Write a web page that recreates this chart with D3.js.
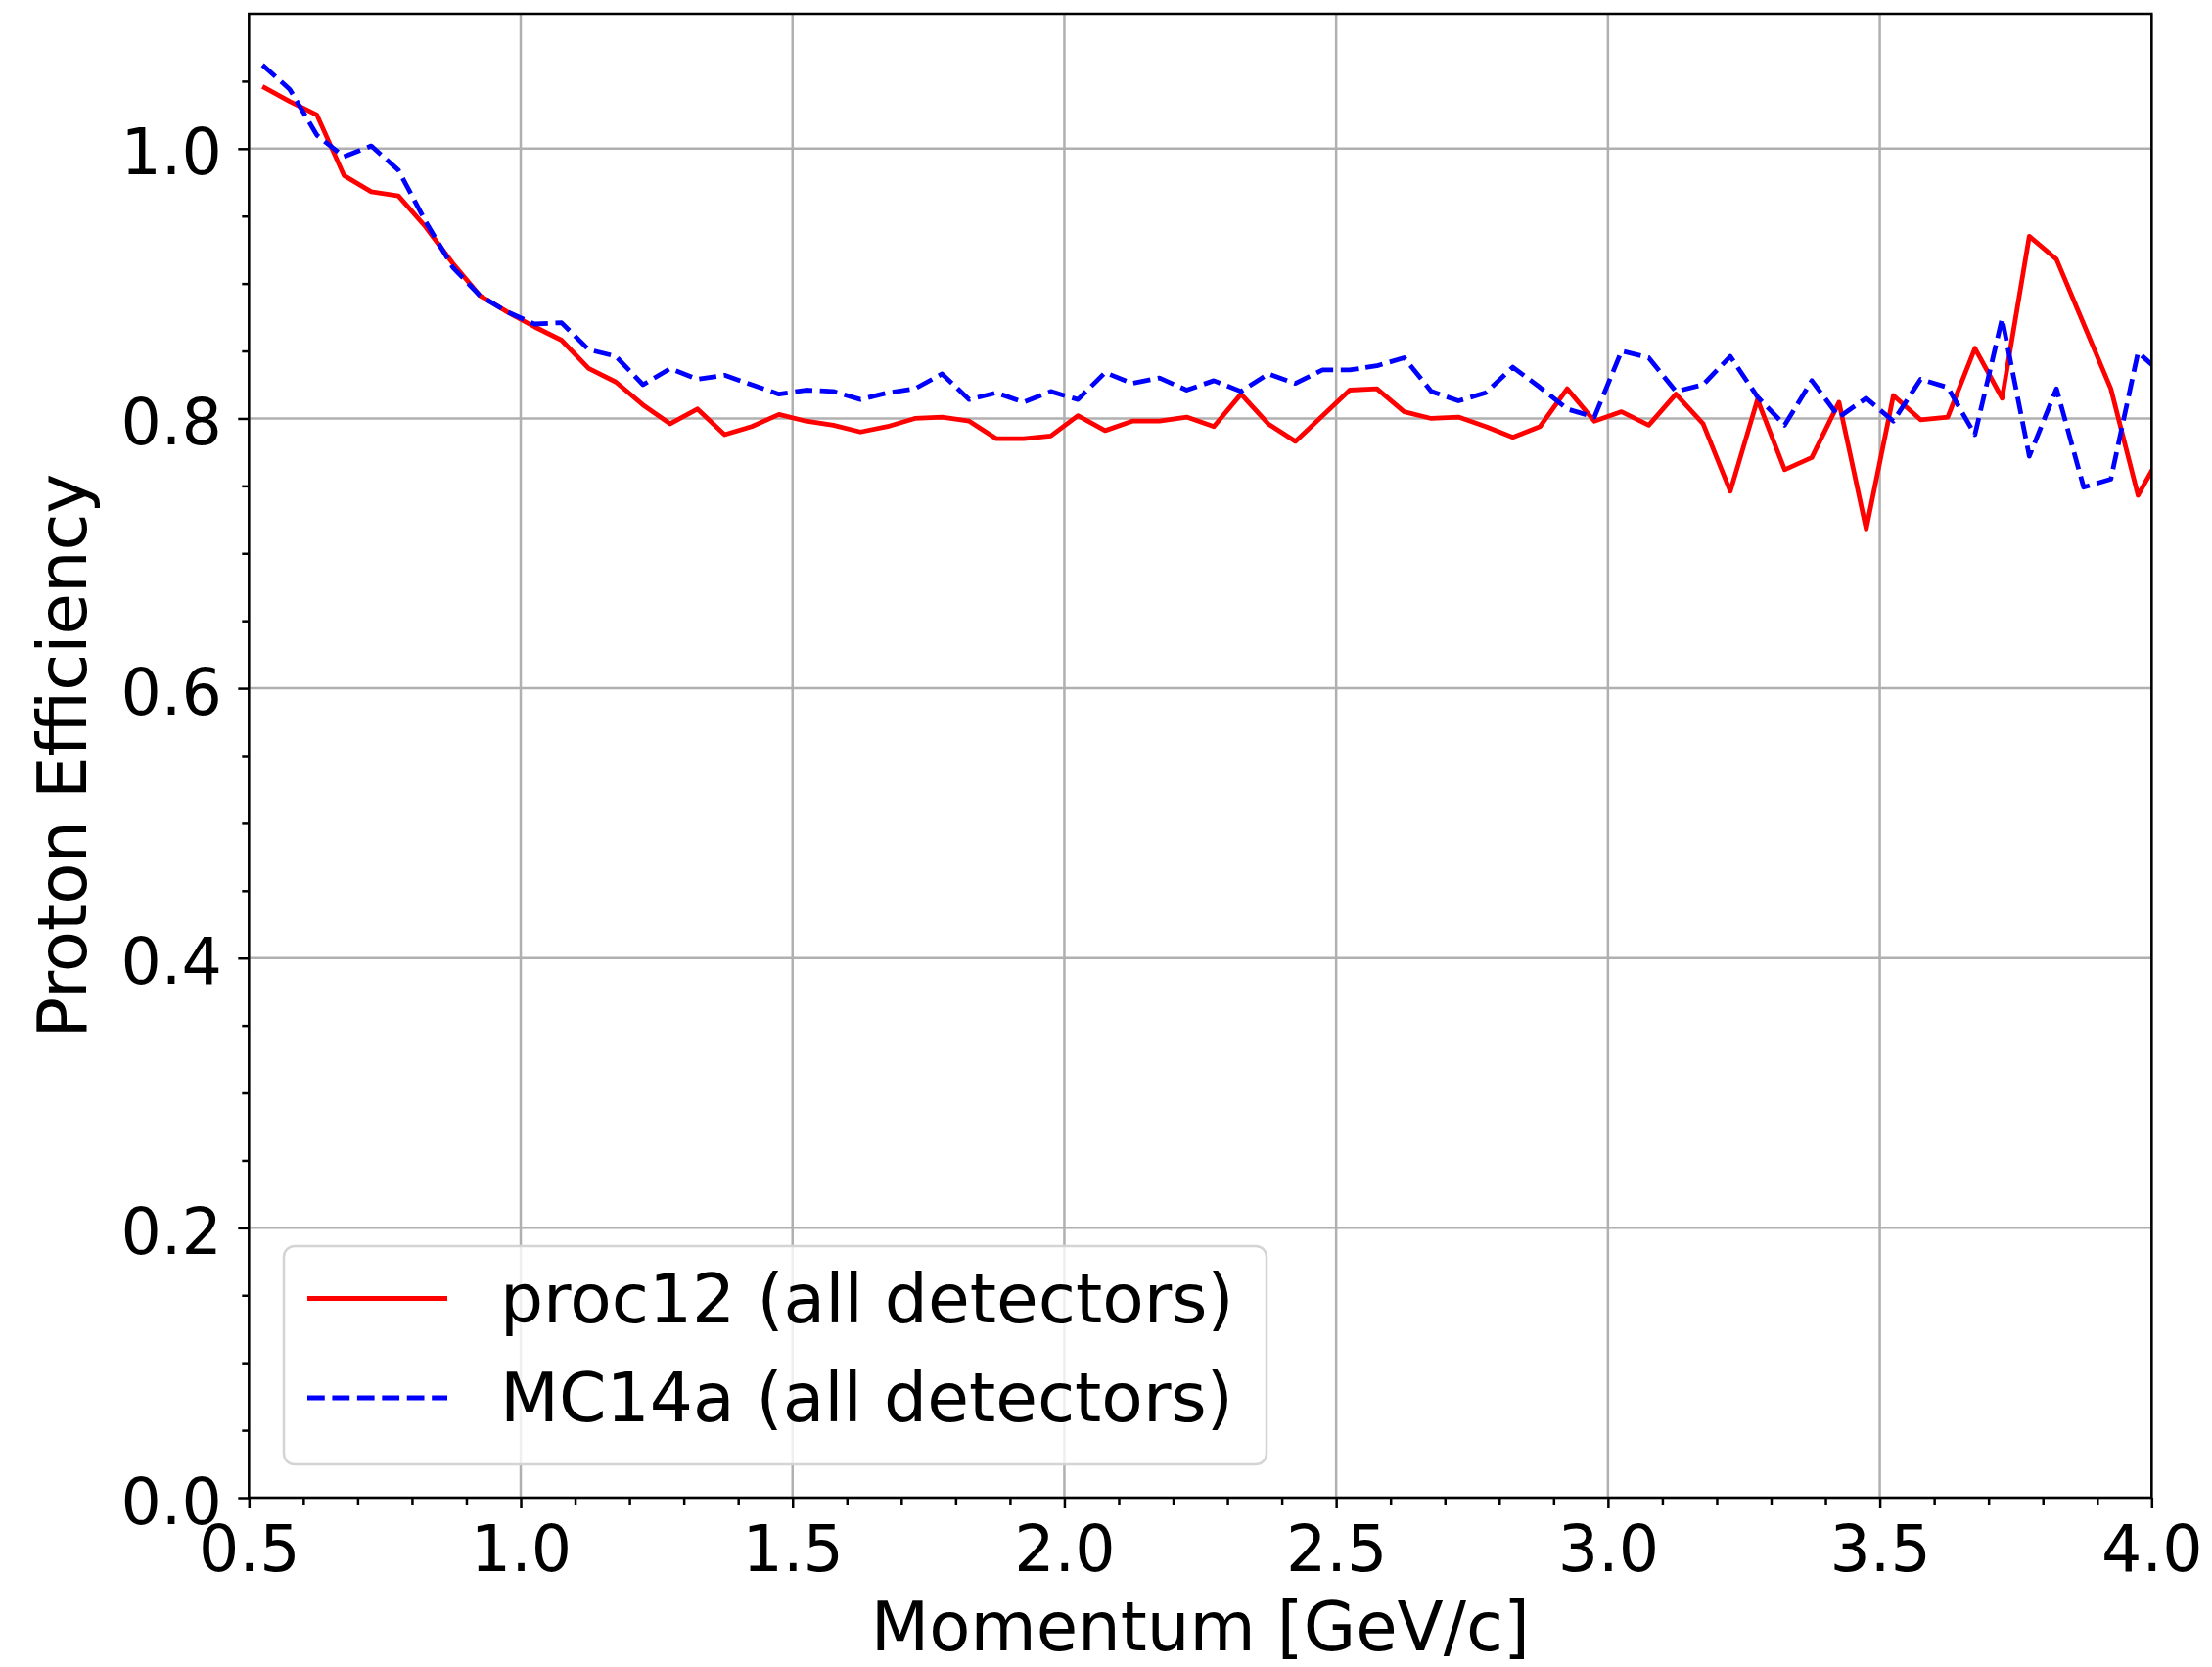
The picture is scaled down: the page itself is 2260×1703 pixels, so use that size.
<!DOCTYPE html>
<html>
<head>
<meta charset="utf-8">
<script src="https://cdn.jsdelivr.net/npm/d3@7"></script>
<style>
  html, body { margin: 0; padding: 0; background: #ffffff; }
  svg { display: block; font-family: "DejaVu Sans", sans-serif; }
</style>
</head>
<body>
<script>
// Momentum bin centres [GeV/c]
const momentum = [
  0.525, 0.575, 0.625, 0.675, 0.725, 0.775, 0.825, 0.875, 0.925, 0.975,
  1.025, 1.075, 1.125, 1.175, 1.225, 1.275, 1.325, 1.375, 1.425, 1.475,
  1.525, 1.575, 1.625, 1.675, 1.725, 1.775, 1.825, 1.875, 1.925, 1.975,
  2.025, 2.075, 2.125, 2.175, 2.225, 2.275, 2.325, 2.375, 2.425, 2.475,
  2.525, 2.575, 2.625, 2.675, 2.725, 2.775, 2.825, 2.875, 2.925, 2.975,
  3.025, 3.075, 3.125, 3.175, 3.225, 3.275, 3.325, 3.375, 3.425, 3.475,
  3.525, 3.575, 3.625, 3.675, 3.725, 3.775, 3.825, 3.875, 3.925, 3.975,
  4.025
];

// Proton efficiency, data processing proc12
const proc12 = [
  1.046, 1.035, 1.025, 0.980, 0.968, 0.965, 0.942, 0.915, 0.891, 0.879,
  0.868, 0.858, 0.837, 0.827, 0.810, 0.796, 0.807, 0.788, 0.794, 0.803,
  0.798, 0.795, 0.790, 0.794, 0.800, 0.801, 0.798, 0.785, 0.785, 0.787,
  0.802, 0.791, 0.798, 0.798, 0.801, 0.794, 0.818, 0.796, 0.783, 0.802,
  0.821, 0.822, 0.805, 0.800, 0.801, 0.794, 0.786, 0.794, 0.822, 0.798,
  0.805, 0.795, 0.818, 0.796, 0.746, 0.814, 0.762, 0.771, 0.812, 0.718,
  0.817, 0.799, 0.801, 0.852, 0.815, 0.935, 0.918, 0.870, 0.822, 0.743,
  0.779
];

// Proton efficiency, simulation MC14a
const mc14a = [
  1.062, 1.044, 1.010, 0.994, 1.002, 0.984, 0.946, 0.912, 0.891, 0.879,
  0.870, 0.871, 0.851, 0.846, 0.825, 0.837, 0.829, 0.832, 0.825, 0.818,
  0.821, 0.820, 0.814, 0.819, 0.822, 0.833, 0.814, 0.819, 0.812, 0.820,
  0.814, 0.834, 0.826, 0.830, 0.821, 0.828, 0.820, 0.833, 0.826, 0.836,
  0.836, 0.839, 0.845, 0.820, 0.813, 0.819, 0.838, 0.823, 0.807, 0.801,
  0.850, 0.845, 0.820, 0.825, 0.846, 0.816, 0.795, 0.828, 0.801, 0.815,
  0.798, 0.829, 0.823, 0.788, 0.874, 0.772, 0.822, 0.749, 0.755, 0.849,
  0.831
];

const seriesLabels = ["proc12 (all detectors)", "MC14a (all detectors)"];
const xTicks = [0.5, 1.0, 1.5, 2.0, 2.5, 3.0, 3.5, 4.0];
const yTicks = [0.0, 0.2, 0.4, 0.6, 0.8, 1.0];
const xMinorTicks = [0.6, 0.7, 0.8, 0.9, 1.1, 1.2, 1.3, 1.4, 1.6, 1.7, 1.8, 1.9,
  2.1, 2.2, 2.3, 2.4, 2.6, 2.7, 2.8, 2.9, 3.1, 3.2, 3.3, 3.4, 3.6, 3.7, 3.8, 3.9];
const yMinorTicks = [0.05, 0.1, 0.15, 0.25, 0.3, 0.35, 0.45, 0.5, 0.55,
  0.65, 0.7, 0.75, 0.85, 0.9, 0.95, 1.05];
const xLabel = "Momentum [GeV/c]";
const yLabel = "Proton Efficiency";

// ---- layout ----
const W = 2260, H = 1703;
const plot = { left: 254.3, right: 2198.3, top: 14, bottom: 1530 };
const tickFont = 65, labelFont = 69, legendFont = 69.5;
const lw = 4.8;          // data line width
const axisW = 2.5;       // spines, ticks, grid

const svg = d3.select("body").append("svg")
  .attr("width", W).attr("height", H)
  .attr("viewBox", `0 0 ${W} ${H}`);

svg.append("rect").attr("width", W).attr("height", H).attr("fill", "#ffffff");

const x = d3.scaleLinear().domain([0.5, 4.0]).range([plot.left, plot.right]);
const y = d3.scaleLinear().domain([0.0, 1.1]).range([plot.bottom, plot.top]);

svg.append("defs").append("clipPath").attr("id", "plot-clip")
  .append("rect")
  .attr("x", plot.left).attr("y", plot.top)
  .attr("width", plot.right - plot.left).attr("height", plot.bottom - plot.top);

// grid
const grid = svg.append("g").attr("class", "grid");
grid.selectAll("line.vx").data(xTicks).join("line")
  .attr("x1", d => x(d)).attr("x2", d => x(d))
  .attr("y1", plot.top).attr("y2", plot.bottom)
  .attr("stroke", "#b0b0b0").attr("stroke-width", axisW);
grid.selectAll("line.hy").data(yTicks).join("line")
  .attr("x1", plot.left).attr("x2", plot.right)
  .attr("y1", d => y(d)).attr("y2", d => y(d))
  .attr("stroke", "#b0b0b0").attr("stroke-width", axisW);

// data lines
const pts = vals => momentum.map((m, i) => [m, vals[i]]);
const line = d3.line().x(d => x(d[0])).y(d => y(d[1]));
const lines = svg.append("g").attr("clip-path", "url(#plot-clip)");
lines.append("path").datum(pts(proc12))
  .attr("d", line).attr("fill", "none")
  .attr("stroke", "#ff0000").attr("stroke-width", lw)
  .attr("stroke-linejoin", "round").attr("stroke-linecap", "butt");
lines.append("path").datum(pts(mc14a))
  .attr("d", line).attr("fill", "none")
  .attr("stroke", "#0000ff").attr("stroke-width", lw)
  .attr("stroke-dasharray", `${3.7 * lw} ${1.6 * lw}`)
  .attr("stroke-linejoin", "round").attr("stroke-linecap", "butt");

// axes
function styleAxis(g) {
  g.select(".domain").remove();
  g.selectAll(".tick line").attr("stroke", "#000").attr("stroke-width", axisW);
  g.selectAll(".tick text").attr("fill", "#000").attr("font-size", tickFont)
    .attr("font-family", "DejaVu Sans, sans-serif");
}

const xAxis = svg.append("g").attr("transform", `translate(0,${plot.bottom})`)
  .call(d3.axisBottom(x).tickValues(xTicks).tickFormat(d3.format(".1f"))
    .tickSize(11).tickPadding(10));
styleAxis(xAxis);
xAxis.selectAll(".tick text").attr("dy", null).attr("y", 75);

svg.append("g").attr("transform", `translate(0,${plot.bottom})`)
  .call(d3.axisBottom(x).tickValues(xMinorTicks).tickFormat("").tickSize(7))
  .call(styleAxis);

const yAxis = svg.append("g").attr("transform", `translate(${plot.left},0)`)
  .call(d3.axisLeft(y).tickValues(yTicks).tickFormat(d3.format(".1f"))
    .tickSize(11).tickPadding(16.5));
styleAxis(yAxis);
yAxis.selectAll(".tick text").attr("dy", "0.4em");

svg.append("g").attr("transform", `translate(${plot.left},0)`)
  .call(d3.axisLeft(y).tickValues(yMinorTicks).tickFormat("").tickSize(7))
  .call(styleAxis);

// spines
svg.append("rect")
  .attr("x", plot.left).attr("y", plot.top)
  .attr("width", plot.right - plot.left).attr("height", plot.bottom - plot.top)
  .attr("fill", "none").attr("stroke", "#000").attr("stroke-width", axisW);

// axis labels
svg.append("text")
  .attr("x", (plot.left + plot.right) / 2).attr("y", 1686)
  .attr("text-anchor", "middle").attr("font-size", labelFont).attr("fill", "#000")
  .text(xLabel);
svg.append("text")
  .attr("transform", `translate(88,${(plot.top + plot.bottom) / 2}) rotate(-90)`)
  .attr("text-anchor", "middle").attr("font-size", labelFont).attr("fill", "#000")
  .text(yLabel);

// legend
const legend = svg.append("g");
legend.append("rect")
  .attr("x", 290).attr("y", 1273).attr("width", 1004).attr("height", 223)
  .attr("rx", 11).attr("ry", 11)
  .attr("fill", "rgba(255,255,255,0.8)")
  .attr("stroke", "#d4d4d4").attr("stroke-width", 2.5);

const legendRows = [
  { label: seriesLabels[0], color: "#ff0000", dash: null, cy: 1326.5 },
  { label: seriesLabels[1], color: "#0000ff", dash: `${3.7 * lw} ${1.6 * lw}`, cy: 1428 }
];
const rows = legend.selectAll("g.row").data(legendRows).join("g").attr("class", "row");
rows.append("line")
  .attr("x1", 314).attr("x2", 457)
  .attr("y1", d => d.cy).attr("y2", d => d.cy)
  .attr("stroke", d => d.color).attr("stroke-width", lw)
  .attr("stroke-dasharray", d => d.dash);
rows.append("text")
  .attr("x", 511).attr("y", d => d.cy + 24)
  .attr("font-size", legendFont).attr("fill", "#000")
  .text(d => d.label);
</script>
</body>
</html>
